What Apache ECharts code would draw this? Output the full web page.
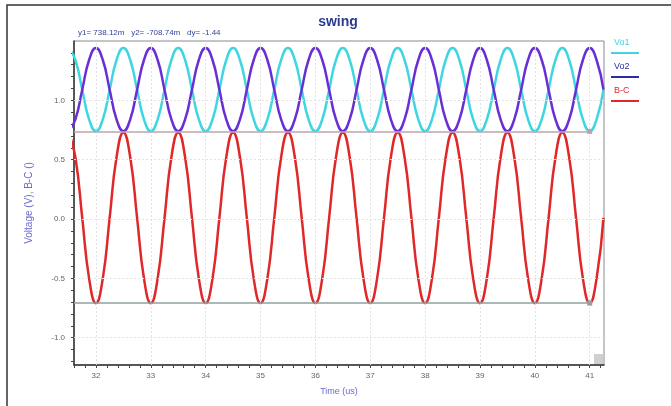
<!DOCTYPE html>
<html>
<head>
<meta charset="utf-8">
<script src="https://cdn.jsdelivr.net/npm/echarts@6/dist/echarts.min.js"></script>
<style>
html,body{margin:0;padding:0;background:#fff;}
#chart{width:671px;height:406px;}
</style>
</head>
<body>
<div id="chart"></div>
<script>
// ---- data ----
var chartTitle = 'swing';
var seriesNames = ['Vo1', 'Vo2', 'B-C'];
var times = [
  31.5, 31.625, 31.75, 31.875, 32, 32.125, 32.25, 32.375,
  32.5, 32.625, 32.75, 32.875, 33, 33.125, 33.25, 33.375,
  33.5, 33.625, 33.75, 33.875, 34, 34.125, 34.25, 34.375,
  34.5, 34.625, 34.75, 34.875, 35, 35.125, 35.25, 35.375,
  35.5, 35.625, 35.75, 35.875, 36, 36.125, 36.25, 36.375,
  36.5, 36.625, 36.75, 36.875, 37, 37.125, 37.25, 37.375,
  37.5, 37.625, 37.75, 37.875, 38, 38.125, 38.25, 38.375,
  38.5, 38.625, 38.75, 38.875, 39, 39.125, 39.25, 39.375,
  39.5, 39.625, 39.75, 39.875, 40, 40.125, 40.25, 40.375,
  40.5, 40.625, 40.75, 40.875, 41, 41.125, 41.25
];
var vo1 = [
  1.44, 1.34, 1.09, 0.84, 0.74, 0.84, 1.09, 1.34,
  1.44, 1.34, 1.09, 0.84, 0.74, 0.84, 1.09, 1.34,
  1.44, 1.34, 1.09, 0.84, 0.74, 0.84, 1.09, 1.34,
  1.44, 1.34, 1.09, 0.84, 0.74, 0.84, 1.09, 1.34,
  1.44, 1.34, 1.09, 0.84, 0.74, 0.84, 1.09, 1.34,
  1.44, 1.34, 1.09, 0.84, 0.74, 0.84, 1.09, 1.34,
  1.44, 1.34, 1.09, 0.84, 0.74, 0.84, 1.09, 1.34,
  1.44, 1.34, 1.09, 0.84, 0.74, 0.84, 1.09, 1.34,
  1.44, 1.34, 1.09, 0.84, 0.74, 0.84, 1.09, 1.34,
  1.44, 1.34, 1.09, 0.84, 0.74, 0.84, 1.09
];
var vo2 = [
  0.74, 0.84, 1.09, 1.34, 1.44, 1.34, 1.09, 0.84,
  0.74, 0.84, 1.09, 1.34, 1.44, 1.34, 1.09, 0.84,
  0.74, 0.84, 1.09, 1.34, 1.44, 1.34, 1.09, 0.84,
  0.74, 0.84, 1.09, 1.34, 1.44, 1.34, 1.09, 0.84,
  0.74, 0.84, 1.09, 1.34, 1.44, 1.34, 1.09, 0.84,
  0.74, 0.84, 1.09, 1.34, 1.44, 1.34, 1.09, 0.84,
  0.74, 0.84, 1.09, 1.34, 1.44, 1.34, 1.09, 0.84,
  0.74, 0.84, 1.09, 1.34, 1.44, 1.34, 1.09, 0.84,
  0.74, 0.84, 1.09, 1.34, 1.44, 1.34, 1.09, 0.84,
  0.74, 0.84, 1.09, 1.34, 1.44, 1.34, 1.09
];
var bc = [
  0.73, 0.52, 0.01, -0.50, -0.71, -0.50, 0.01, 0.52,
  0.73, 0.52, 0.01, -0.50, -0.71, -0.50, 0.01, 0.52,
  0.73, 0.52, 0.01, -0.50, -0.71, -0.50, 0.01, 0.52,
  0.73, 0.52, 0.01, -0.50, -0.71, -0.50, 0.01, 0.52,
  0.73, 0.52, 0.01, -0.50, -0.71, -0.50, 0.01, 0.52,
  0.73, 0.52, 0.01, -0.50, -0.71, -0.50, 0.01, 0.52,
  0.73, 0.52, 0.01, -0.50, -0.71, -0.50, 0.01, 0.52,
  0.73, 0.52, 0.01, -0.50, -0.71, -0.50, 0.01, 0.52,
  0.73, 0.52, 0.01, -0.50, -0.71, -0.50, 0.01, 0.52,
  0.73, 0.52, 0.01, -0.50, -0.71, -0.50, 0.01
];
var xMajorTicks = [32, 33, 34, 35, 36, 37, 38, 39, 40, 41];
var xMinorTicks = [31.6, 31.8, 32, 32.2, 32.4, 32.6, 32.8, 33, 33.2, 33.4, 33.6, 33.8, 34, 34.2, 34.4, 34.6, 34.8,
  35, 35.2, 35.4, 35.6, 35.8, 36, 36.2, 36.4, 36.6, 36.8, 37, 37.2, 37.4, 37.6, 37.8, 38, 38.2, 38.4, 38.6, 38.8,
  39, 39.2, 39.4, 39.6, 39.8, 40, 40.2, 40.4, 40.6, 40.8, 41, 41.2];
var yMajorTicks = [-1.0, -0.5, 0.0, 0.5, 1.0];
var yMinorTicks = [-1.2, -1.1, -1.0, -0.9, -0.8, -0.7, -0.6, -0.5, -0.4, -0.3, -0.2, -0.1, 0, 0.1, 0.2, 0.3, 0.4,
  0.5, 0.6, 0.7, 0.8, 0.9, 1.0, 1.1, 1.2, 1.3, 1.4];
var xRange = [31.6, 41.26];
var yRange = [-1.23, 1.5];
var cursorY1 = 0.73812;
var cursorY2 = -0.70874;
var cursorXEnd = 41.0;
var cursorText = 'y1= 738.12m   y2= -708.74m   dy= -1.44';
var xName = 'Time (us)';
var yName = 'Voltage (V), B-C ()';

// ---- styles ----
var colors = ['#3fd6e2', '#6a2fd4', '#e02828'];
var legendColors = ['#3fd6e2', '#2c2caa', '#e02828'];

function pairs(vals) { return times.map(function (t, i) { return [t, vals[i]]; }); }

var gridLineData = xMajorTicks.map(function (v) { return { xAxis: v }; })
  .concat(yMajorTicks.map(function (v) { return { yAxis: v }; }));

var legendGraphics = [];
seriesNames.forEach(function (n, i) {
  var top = 38 + i * 24;
  legendGraphics.push({
    type: 'text', left: 614, top: top,
    style: { text: n, fill: legendColors[i], font: '9px "Liberation Sans", Arial, sans-serif', align: 'center' },
    x: 10
  });
  legendGraphics.push({
    type: 'line', shape: { x1: 611, y1: top + 15, x2: 639, y2: top + 15 },
    style: { stroke: legendColors[i], lineWidth: 2 }
  });
});

var chart = echarts.init(document.getElementById('chart'), null, { renderer: 'canvas' });
chart.setOption({
  animation: false,
  backgroundColor: '#fff',
  title: {
    text: chartTitle, left: 333, top: 10, textAlign: 'center',
    textStyle: { color: '#2c3a8c', fontSize: 14, fontWeight: 'bold', fontFamily: '"Liberation Sans", Arial, sans-serif' }
  },
  grid: { left: 74, right: 67, top: 41, bottom: 41, show: true, borderColor: '#8a8a8a', borderWidth: 1, backgroundColor: 'transparent' },
  xAxis: {
    type: 'value', min: xRange[0], max: xRange[1],
    name: xName, nameLocation: 'middle', nameGap: 22,
    nameTextStyle: { color: '#6a6ad0', fontSize: 9, fontFamily: '"Liberation Sans", Arial, sans-serif' },
    axisLine: { show: true, onZero: false, lineStyle: { color: '#333', width: 1.5 } },
    axisTick: { show: true, customValues: xMinorTicks, length: 3, lineStyle: { color: '#444' } },
    axisLabel: { customValues: xMajorTicks, color: '#666', fontSize: 8, margin: 7, fontFamily: '"Liberation Sans", Arial, sans-serif' },
    splitLine: { show: false }
  },
  yAxis: {
    type: 'value', min: yRange[0], max: yRange[1],
    name: yName, nameLocation: 'middle', nameGap: 40, nameRotate: 90,
    nameTextStyle: { color: '#6a6ad0', fontSize: 10, fontFamily: '"Liberation Sans", Arial, sans-serif' },
    axisLine: { show: true, onZero: false, lineStyle: { color: '#333', width: 1.5 } },
    axisTick: { show: true, customValues: yMinorTicks, length: 3, lineStyle: { color: '#444' } },
    axisLabel: {
      customValues: yMajorTicks, color: '#666', fontSize: 8, margin: 9,
      fontFamily: '"Liberation Sans", Arial, sans-serif',
      formatter: function (v) { return v.toFixed(1); }
    },
    splitLine: { show: false }
  },
  graphic: [
    { type: 'rect', shape: { x: 7, y: 5, width: 700, height: 420 }, style: { fill: 'none', stroke: '#333', lineWidth: 1.5 }, silent: true, z: 100 },
    { type: 'text', left: 78, top: 29, style: { text: cursorText, fill: '#33449a', font: '8px "Liberation Sans", Arial, sans-serif' } },
    { type: 'rect', shape: { x: 594, y: 354, width: 9, height: 10 }, style: { fill: '#cfcfcf' } }
  ].concat(legendGraphics),
  series: [
    {
      type: 'line', name: 'grid', data: [], z: 1, silent: true,
      markLine: {
        silent: true, symbol: ['none', 'none'], label: { show: false },
        lineStyle: { color: '#e2e2e2', type: [2, 2], width: 1 },
        data: gridLineData
      }
    },
    {
      type: 'line', name: seriesNames[0], data: pairs(vo1), smooth: true, showSymbol: false, clip: true, z: 3,
      lineStyle: { color: colors[0], width: 2.5 }
    },
    {
      type: 'line', name: seriesNames[1], data: pairs(vo2), smooth: true, showSymbol: false, clip: true, z: 4,
      lineStyle: { color: colors[1], width: 2.5 }
    },
    {
      type: 'line', name: seriesNames[2], data: pairs(bc), smooth: true, showSymbol: false, clip: true, z: 2,
      lineStyle: { color: colors[2], width: 2.5 },
      markLine: {
        silent: true, symbol: ['none', 'rect'], symbolSize: 5, label: { show: false },
        data: [
          [{ coord: [xRange[0], cursorY1], lineStyle: { color: '#bca4ae', width: 1.5, type: 'solid' } }, { coord: [cursorXEnd, cursorY1], itemStyle: { color: '#334' } }],
          [{ coord: [xRange[0], cursorY2], lineStyle: { color: '#8fa0a0', width: 1.5, type: 'solid' } }, { coord: [cursorXEnd, cursorY2], itemStyle: { color: '#334' } }]
        ]
      }
    }
  ]
});
</script>
</body>
</html>
